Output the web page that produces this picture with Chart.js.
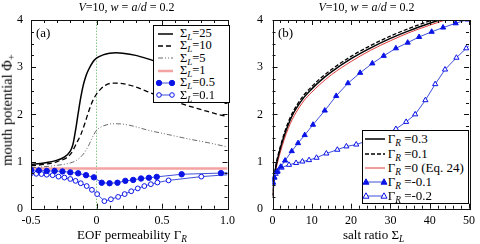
<!DOCTYPE html>
<html><head><meta charset="utf-8">
<script src="https://cdn.jsdelivr.net/npm/chart.js@4/dist/chart.umd.min.js"></script>
<style>
body{margin:0;background:#fff;}
#wrap{position:relative;width:480px;height:244px;font-family:"Liberation Serif","Times New Roman",serif;color:#000;overflow:hidden;background:#fff}
canvas{position:absolute;top:0}
.t{position:absolute;white-space:nowrap;line-height:1}
.leg{position:absolute;background:#fff;border:1px solid #000;box-sizing:border-box}
.row{position:absolute;white-space:nowrap;line-height:1}
sub{font-size:72%;font-style:italic;vertical-align:-0.3em;line-height:0}
i{font-style:italic}
</style></head>
<body>
<div id="wrap">
  <canvas id="ca" width="240" height="244" style="left:0"></canvas>
  <canvas id="cb" width="240" height="244" style="left:240px"></canvas>
  <div class="t" style="left:126.5px;top:1px;font-size:12px;transform:translateX(-50%)"><i>V</i>=10, <i>w</i> = <i>a</i>/<i>d</i> = 0.2</div>
  <div class="t" style="left:366.5px;top:1px;font-size:12px;transform:translateX(-50%)"><i>V</i>=10, <i>w</i> = <i>a</i>/<i>d</i> = 0.2</div>
  <div class="t" style="left:36px;top:26px;font-size:13px">(a)</div>
  <div class="t" style="left:278px;top:26px;font-size:13px">(b)</div>
  <div class="t" style="left:77px;top:228px;font-size:13px">EOF permeability Γ<sub>R</sub></div>
  <div class="t" style="left:343px;top:228px;font-size:13px">salt ratio Σ<sub>L</sub></div>
  <div class="t" style="left:7px;top:110px;font-size:14.5px;transform:translate(-50%,-50%) rotate(-90deg)">mouth potential Φ<sub style="font-style:normal">+</sub></div>
  <div class="leg" id="legA" style="left:153px;top:25px;width:77px;height:78px"></div>
  <div class="leg" id="legB" style="left:361.7px;top:130px;width:107.5px;height:74px"></div>
</div>
<script>
// ---------- Panel (a): mouth potential vs EOF permeability ----------
const s25Gamma = [-0.5,-0.4,-0.3,-0.25,-0.2,-0.18,-0.16,-0.14,-0.12,-0.1,-0.08,-0.06,-0.03,0,0.05,0.1,0.15,0.2,0.3,0.4,0.5,0.6,0.7,0.8,0.9,1.0];
const s25Phi   = [0.94,0.97,1.03,1.09,1.22,1.36,1.66,2.02,2.36,2.63,2.82,2.95,3.10,3.19,3.26,3.295,3.305,3.295,3.25,3.17,3.08,2.99,2.89,2.80,2.70,2.60];
const s10Gamma = [-0.5,-0.4,-0.3,-0.2,-0.15,-0.12,-0.09,-0.06,-0.03,0,0.03,0.07,0.12,0.15,0.2,0.3,0.4,0.5,0.6,0.7,0.8,0.9,1.0];
const s10Phi   = [0.91,0.94,1.0,1.15,1.40,1.57,1.80,2.06,2.28,2.43,2.53,2.62,2.66,2.66,2.65,2.58,2.47,2.36,2.27,2.18,2.10,2.02,1.95];
const s5Gamma  = [-0.5,-0.4,-0.3,-0.2,-0.15,-0.1,-0.06,-0.03,0,0.04,0.08,0.12,0.16,0.25,0.4,0.55,0.7,0.85,1.0];
const s5Phi    = [0.87,0.89,0.92,0.97,1.03,1.16,1.34,1.52,1.66,1.74,1.78,1.80,1.80,1.77,1.66,1.57,1.48,1.40,1.31];
const s1Gamma  = [-0.5,1.0];
const s1Phi    = [0.85,0.85];
const s05Gamma = [-0.5,-0.44,-0.38,-0.32,-0.26,-0.2,-0.14,-0.08,-0.02,0.04,0.1,0.16,0.22,0.28,0.34,0.4,0.46,0.65,0.95,1.0];
const s05Phi   = [0.82,0.81,0.80,0.80,0.79,0.77,0.75,0.71,0.665,0.55,0.54,0.55,0.59,0.61,0.64,0.655,0.675,0.73,0.755,0.765];
const s01Gamma = [-0.5,-0.46,-0.42,-0.38,-0.335,-0.29,-0.245,-0.2,-0.16,-0.12,-0.075,-0.035,0.005,0.06,0.11,0.165,0.215,0.265,0.315,0.365,0.415,0.465,0.55,0.8,1.0];
const s01Phi   = [0.75,0.74,0.735,0.72,0.71,0.68,0.66,0.63,0.59,0.54,0.48,0.40,0.31,0.16,0.20,0.25,0.31,0.37,0.43,0.48,0.52,0.555,0.60,0.68,0.72];
const guideGamma = [0,0];
const guidePhi   = [0,4];
const xTicksA = [-0.5,0,0.5,1];
const yTicks  = [0,1,2,3,4];

// ---------- Panel (b): mouth potential vs salt ratio ----------
const g03Sigma = [0.1,0.3,0.6,1,1.5,2,3,4,5,6,8,10,12,15,20,25,30,35,40,45,50];
const g03Phi   = [0.28,0.55,0.75,0.95,1.12,1.28,1.55,1.78,1.97,2.12,2.36,2.54,2.70,2.90,3.18,3.41,3.61,3.78,3.93,4.07,4.2];
const g01Sigma = [0.1,0.3,0.6,1,1.5,2,3,4,5,6,8,10,12,15,20,25,30,35,40,45,50];
const g01Phi   = [0.25,0.55,0.78,0.98,1.16,1.32,1.60,1.83,2.02,2.17,2.41,2.59,2.75,2.95,3.23,3.46,3.66,3.83,3.98,4.12,4.25];
const g0Sigma  = [0.1,0.3,0.6,1,1.5,2,3,4,5,6,8,10,12,15,20,25,30,35,40,45,50];
const g0Phi    = [0.30,0.50,0.70,0.88,1.05,1.20,1.47,1.70,1.89,2.04,2.29,2.47,2.63,2.84,3.12,3.36,3.56,3.74,3.89,4.03,4.16];
const gm1Sigma = [0.1,0.5,1.2,2.1,3.2,4.9,6.5,8.2,10.3,13.3,16.2,19.2,22.3,25.4,28.3,31.4,34.4,37.3,40.5,43.4,46.6,49.6];
const gm1Phi   = [0.55,0.66,0.78,0.89,1.02,1.22,1.39,1.56,1.78,2.08,2.39,2.66,2.88,3.08,3.24,3.40,3.52,3.64,3.75,3.84,3.93,4.01];
const gm2Sigma = [0.1,0.4,0.8,1.3,2.3,4.2,6.0,7.6,9.3,11.2,13.7,16.5,18.8,21.3,23.8,26.3,28.8,31.4,34.0,36.3,38.9,41.4,43.9,46.8,49.3,50];
const gm2Phi   = [0.56,0.66,0.74,0.80,0.87,0.93,0.97,1.0,1.03,1.08,1.17,1.25,1.32,1.36,1.43,1.50,1.59,1.69,1.84,2.0,2.3,2.64,2.95,3.2,3.4,3.46];
const xTicksB = [0,10,20,30,40,50];

const FONT = '"Liberation Serif","Times New Roman",serif';
const pts = (xs, ys) => xs.map((x, i) => ({x, y: ys[i]}));
const BLUE_LINE = '#3f50d8', BLUE_PT = '#0a14e6';

const frameTicks = {
  id: 'frameTicks',
  afterDatasetsDraw(chart, args, o) {
    const {ctx, chartArea: a, scales: {x, y}} = chart;
    ctx.save();
    ctx.strokeStyle = '#111'; ctx.lineWidth = 1;
    ctx.beginPath();
    const nx = Math.round((x.max - x.min) / o.xMinor);
    for (let i = 0; i <= nx; i++) {
      const v = x.min + i * o.xMinor;
      const major = Math.abs(v / o.xMajor - Math.round(v / o.xMajor)) < 1e-6;
      const L = major ? 5 : 3; const px = Math.round(x.getPixelForValue(v)) + 0.5;
      ctx.moveTo(px, a.bottom); ctx.lineTo(px, a.bottom - L);
      ctx.moveTo(px, a.top); ctx.lineTo(px, a.top + L);
    }
    const ny = Math.round((y.max - y.min) / o.yMinor);
    for (let i = 0; i <= ny; i++) {
      const v = y.min + i * o.yMinor;
      const major = Math.abs(v / o.yMajor - Math.round(v / o.yMajor)) < 1e-6;
      const L = major ? 5 : 3; const py = Math.round(y.getPixelForValue(v)) + 0.5;
      ctx.moveTo(a.left, py); ctx.lineTo(a.left + L, py);
      ctx.moveTo(a.right, py); ctx.lineTo(a.right - L, py);
    }
    ctx.stroke();
    ctx.strokeRect(Math.round(a.left) + 0.5, Math.round(a.top) + 0.5, Math.round(a.right - a.left), Math.round(a.bottom - a.top));
    ctx.restore();
  }
};

function axes(xmin, xmax, xstep, xTicks, yWidth, yPad) {
  return {
    x: {type: 'linear', min: xmin, max: xmax,
        grid: {display: false, drawTicks: false}, border: {display: false},
        afterBuildTicks: s => { s.ticks = xTicks.map(v => ({value: v})); },
        ticks: {font: {family: FONT, size: 12}, color: '#000', padding: 5, maxRotation: 0, autoSkip: false},
        afterFit: s => { s.height = 35.3; }},
    y: {type: 'linear', min: 0, max: 4,
        grid: {display: false, drawTicks: false}, border: {display: false},
        afterBuildTicks: s => { s.ticks = yTicks.map(v => ({value: v})); },
        ticks: {font: {family: FONT, size: 12}, color: '#000', padding: yPad, autoSkip: false},
        afterFit: s => { s.width = yWidth; }}
  };
}

const common = (scales, ft) => ({
  responsive: false, animation: false, devicePixelRatio: 1,
  layout: {padding: {left: 0, right: 10, top: 20, bottom: 0}},
  plugins: {legend: {display: false}, tooltip: {enabled: false}, frameTicks: ft},
  scales,
  elements: {point: {radius: 0, hitRadius: 0}, line: {borderWidth: 1}}
});

// Chart A
const dsA = [
  {data: pts(s05Gamma, s05Phi), borderColor: BLUE_LINE, borderWidth: 1, pointStyle: 'circle',
   pointRadius: c => (c.raw && c.raw.x >= 1) ? 0 : 2.7, pointBackgroundColor: BLUE_PT, pointBorderColor: BLUE_PT, pointBorderWidth: 1, tension: 0},
  {data: pts(s01Gamma, s01Phi), borderColor: BLUE_LINE, borderWidth: 1, pointStyle: 'circle',
   pointRadius: c => (c.raw && c.raw.x >= 1) ? 0 : 2.4, pointBackgroundColor: '#fff', pointBorderColor: BLUE_PT, pointBorderWidth: 1, tension: 0},
  {data: pts(s25Gamma, s25Phi), borderColor: '#000', borderWidth: 1.5, cubicInterpolationMode: 'monotone'},
  {data: pts(s10Gamma, s10Phi), borderColor: '#000', borderWidth: 1.3, borderDash: [5, 3], cubicInterpolationMode: 'monotone'},
  {data: pts(s5Gamma, s5Phi), borderColor: '#444', borderWidth: 0.8, borderDash: [5, 2, 1, 2, 1, 2], cubicInterpolationMode: 'monotone'},
  {data: pts(s1Gamma, s1Phi), borderColor: '#f4a3a3', borderWidth: 2.5},
  {data: pts(guideGamma, guidePhi), borderColor: '#4cae4c', borderWidth: 1, borderDash: [1, 2]}
];
new Chart(document.getElementById('ca'), {
  type: 'line', data: {datasets: dsA},
  options: common(axes(-0.5, 1, 0.5, xTicksA, 31, 8), {xMinor: 0.1, xMajor: 0.5, yMinor: 0.25, yMajor: 1}),
  plugins: [frameTicks]
});

// Chart B
const dsB = [
  {data: pts(gm1Sigma, gm1Phi), borderColor: BLUE_LINE, borderWidth: 1, pointStyle: 'triangle',
   pointRadius: 3, pointBackgroundColor: BLUE_PT, pointBorderColor: BLUE_PT, pointBorderWidth: 1, tension: 0},
  {data: pts(gm2Sigma, gm2Phi), borderColor: BLUE_LINE, borderWidth: 1, pointStyle: 'triangle',
   pointRadius: c => (c.raw && c.raw.x >= 50) ? 0 : 3, pointBackgroundColor: '#fff', pointBorderColor: BLUE_PT, pointBorderWidth: 1, tension: 0},
  {data: pts(g01Sigma, g01Phi), borderColor: '#000', borderWidth: 1.3, borderDash: [4, 2], cubicInterpolationMode: 'monotone'},
  {data: pts(g03Sigma, g03Phi), borderColor: '#000', borderWidth: 1.5, cubicInterpolationMode: 'monotone'},
  {data: pts(g0Sigma, g0Phi), borderColor: '#e03a3a', borderWidth: 1, cubicInterpolationMode: 'monotone'}
];
new Chart(document.getElementById('cb'), {
  type: 'line', data: {datasets: dsB},
  options: common(axes(0, 50, 10, xTicksB, 32.5, 9.5), {xMinor: 2, xMajor: 10, yMinor: 0.25, yMajor: 1}),
  plugins: [frameTicks]
});

// ---------- Legends ----------
function sample(w, s) {
  const y = 5;
  let svg = `<svg width="${w}" height="10" style="position:absolute;left:0;top:0">`;
  const dash = s.dash ? `stroke-dasharray="${s.dash.join(',')}"` : '';
  svg += `<line x1="${s.x0}" y1="${y}" x2="${s.x1}" y2="${y}" stroke="${s.color}" stroke-width="${s.width}" ${dash}/>`;
  for (const mx of (s.marker ? [s.x0 + 1, s.x1 - 1] : [])) {
    if (s.marker === 'circle') svg += `<circle cx="${mx}" cy="${y}" r="${s.filled ? 2.7 : 2.3}" fill="${s.filled ? BLUE_PT : '#fff'}" stroke="${BLUE_PT}" stroke-width="1"/>`;
    else svg += `<polygon points="${mx},${y - 3.2} ${mx + 3},${y + 2.2} ${mx - 3},${y + 2.2}" fill="${s.filled ? BLUE_PT : '#fff'}" stroke="${BLUE_PT}" stroke-width="1"/>`;
  }
  return svg + '</svg>';
}
function buildLegend(id, items, rowY, sampleW, textX, fs) {
  const el = document.getElementById(id);
  items.forEach((it, k) => {
    const r = document.createElement('div');
    r.className = 'row';
    r.style.left = '0px'; r.style.top = (rowY[k] - 5) + 'px'; r.style.width = '100%'; r.style.height = '10px';
    r.innerHTML = sample(sampleW, it.s) + `<span style="position:absolute;left:${textX}px;top:${5 - fs / 2 - 0.5}px;font-size:${fs}px">${it.label}</span>`;
    el.appendChild(r);
  });
}
const legendA = ['25', '10', '5', '1', '0.5', '0.1'];
buildLegend('legA', [
  {label: `Σ<sub>L</sub>=${legendA[0]}`, s: {x0: 4, x1: 19, color: '#000', width: 1.5}},
  {label: `Σ<sub>L</sub>=${legendA[1]}`, s: {x0: 4, x1: 19, color: '#000', width: 1.3, dash: [5, 3]}},
  {label: `Σ<sub>L</sub>=${legendA[2]}`, s: {x0: 4, x1: 19, color: '#444', width: 0.8, dash: [5, 2, 1, 2, 1, 2]}},
  {label: `Σ<sub>L</sub>=${legendA[3]}`, s: {x0: 4, x1: 19, color: '#f4a3a3', width: 2.5}},
  {label: `Σ<sub>L</sub>=${legendA[4]}`, s: {x0: 4, x1: 19, color: BLUE_LINE, width: 1, marker: 'circle', filled: true}},
  {label: `Σ<sub>L</sub>=${legendA[5]}`, s: {x0: 4, x1: 19, color: BLUE_LINE, width: 1, marker: 'circle', filled: false}}
], [7.8, 20.1, 32.4, 44.7, 57, 69.3], 26, 26, 12.5);
const legendB = ['0.3', '0.1', '0 (Eq. 24)', '-0.1', '-0.2'];
buildLegend('legB', [
  {label: `Γ<sub>R</sub> =${legendB[0]}`, s: {x0: 2, x1: 22, color: '#000', width: 1.5}},
  {label: `Γ<sub>R</sub> =${legendB[1]}`, s: {x0: 2, x1: 22, color: '#000', width: 1.3, dash: [4, 2]}},
  {label: `Γ<sub>R</sub> =${legendB[2]}`, s: {x0: 2, x1: 22, color: '#e03a3a', width: 1}},
  {label: `Γ<sub>R</sub> =${legendB[3]}`, s: {x0: 2, x1: 22, color: BLUE_LINE, width: 1, marker: 'triangle', filled: true}},
  {label: `Γ<sub>R</sub> =${legendB[4]}`, s: {x0: 2, x1: 22, color: BLUE_LINE, width: 1, marker: 'triangle', filled: false}}
], [8.3, 22.5, 36.7, 50.9, 65.1], 26, 25, 13);
</script>
</body></html>
